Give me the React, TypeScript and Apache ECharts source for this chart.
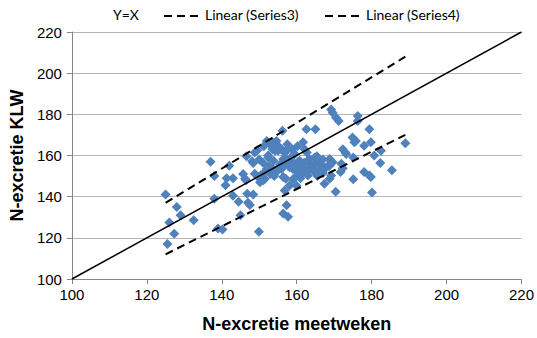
import { useEffect, useRef } from "react";
import * as echarts from "echarts";

// Axis range shared by both axes (N-excretie, kg)
const axisMin = 100;
const axisMax = 220;
const axisStep = 20;

// Reference line and the two linear trend lines
const identityLine: [number, number][] = [
  [100, 100],
  [220, 220],
];
const series3Trend: [number, number][] = [
  [125, 137],
  [189, 208],
];
const series4Trend: [number, number][] = [
  [125, 112],
  [189, 170],
];

const legendLabels = ["Y=X", "Linear (Series3)", "Linear (Series4)"];

// Per-farm pairs: [meetweken, KLW]
const lowerGroup: [number, number][] = [
  [125, 141], [125.5, 117], [126, 127.5], [127.3, 122], [128, 135], [129, 131],
  [132.5, 128.5], [137, 157], [138, 150], [138, 139], [139, 124.5], [140.2, 124],
  [141, 145.5], [141.3, 149], [142, 155], [143, 149], [143, 140.5], [144.5, 137.5],
  [145, 131], [145.7, 151], [146.2, 148.7], [146.5, 148], [146.8, 141.4], [147, 137],
  [147.5, 136], [148.4, 141], [149.9, 123], [146.6, 159.6],
];

const middleGroup: [number, number][] = [
  [148.1, 157.2], [148.4, 156.4], [148.8, 161.5], [148.8, 151.1], [149.7, 149.5],
  [150.2, 147], [151.1, 148], [151.5, 148.7], [152, 167], [152.4, 160], [152.4, 159],
  [152.8, 165.5], [153.5, 163], [154.2, 162.3], [154.6, 167], [155, 164.7], [155, 162.3],
  [155.9, 163], [156.2, 172], [156.4, 162.3], [156.8, 161.5], [157.3, 162.3],
  [152.6, 154.8], [153.5, 153.8], [152, 153.5], [155.9, 153.5], [156.4, 149.5],
  [157.1, 148.7], [156.4, 158.3], [157.3, 158], [159.5, 160.7], [160.4, 157], [160.8, 157.5],
  [150.5, 150.5], [151.5, 152], [153, 151], [154, 150], [154.8, 152.5], [155.5, 155.5],
  [157, 156], [158, 157.5], [158.7, 159.5], [159.5, 156], [160, 150], [161, 149],
  [161.5, 151.5], [162, 156.5], [163.5, 156], [164.5, 152.5], [153.8, 157.5], [151, 156.5],
  [150, 158], [149.5, 162.5], [151.2, 164.5], [153.5, 166.5], [157.5, 165.5],
  [160.2, 164.5], [158.8, 163], [159, 148.5],
];

const centreGroup: [number, number][] = [
  [158.1, 154.3], [159, 153.5], [159.9, 152.7], [160.4, 151], [160.8, 153.5],
  [161.7, 154.3], [162.4, 152], [163, 150.3], [163.4, 153.5], [163.9, 155.4],
  [164.3, 154.8], [165, 156], [165.6, 157], [162.1, 163], [162.7, 161.5], [163.4, 158.3],
  [164.8, 159], [165.4, 159.6], [165.7, 158.3], [161.7, 166.4], [162.6, 172.8],
  [165, 172.8], [158.1, 145.4], [159.9, 145.4], [156.8, 143], [157.3, 135.8],
  [156.4, 131.8], [157.7, 130.2], [166, 153], [166.5, 155.5], [167, 158],
  [165.5, 150], [167, 151.5],
];

const upperGroup: [number, number][] = [
  [167.9, 154.3], [168.6, 154.8], [169.2, 150.3], [167.4, 146.3], [168.8, 148.7],
  [171.7, 152], [172.3, 153.8], [168.8, 158.3], [169.2, 157], [168.8, 155.4],
  [169.6, 156.7], [171.9, 156], [172.3, 163], [173, 161.5], [173.2, 160.7], [175.1, 159],
  [170.4, 142.4], [175.1, 148.5], [174.9, 168.8], [175.8, 167], [175.4, 166.4],
  [178, 164.7], [179.8, 166.4], [178, 152], [179.4, 150.3], [179.8, 149.5], [180.1, 142],
  [180.7, 160], [182.5, 162.3], [182.3, 156.3], [185.4, 152.8], [189, 166],
  [169.2, 182.4], [169.6, 180.8], [170.5, 178.4], [171.2, 176.8], [176.3, 179.2],
  [176.3, 176.8], [179.4, 172.8],
];

const measurements = [...lowerGroup, ...middleGroup, ...centreGroup, ...upperGroup];

const labelFont = "'Liberation Sans', Arial, sans-serif";
const legendFont = "Lato, 'Open Sans', sans-serif";

export default function App() {
  const ref = useRef<HTMLDivElement>(null);

  useEffect(() => {
    if (!ref.current) return;
    const chart = echarts.init(ref.current, undefined, { renderer: "svg" });

    const dash = { type: [8, 5] as number[], color: "#000", width: 2 };

    const legendY = 16;
    const legendText = (text: string, left: number) => ({
      type: "text",
      left,
      top: legendY - 9,
      style: { text, font: `14px ${legendFont}`, fill: "#000" },
    });
    const legendDash = (x1: number, x2: number) => ({
      type: "line",
      shape: { x1, y1: legendY, x2, y2: legendY },
      style: { stroke: "#000", lineWidth: 2, lineDash: [8, 5] },
    });
    const legendGraphic = [
      legendText(legendLabels[0], 113),
      legendDash(164, 202),
      legendText(legendLabels[1], 205),
      legendDash(325, 363),
      legendText(legendLabels[2], 366),
    ];

    const axisCommon = {
      type: "value" as const,
      min: axisMin,
      max: axisMax,
      interval: axisStep,
      nameLocation: "middle" as const,
      nameTextStyle: {
        fontFamily: labelFont,
        fontSize: 18,
        fontWeight: "bold" as const,
        color: "#000",
      },
      axisLine: { show: true, lineStyle: { color: "#868686", width: 1 } },
      axisTick: { show: true, length: 5, lineStyle: { color: "#868686" } },
      axisLabel: { fontFamily: labelFont, fontSize: 15, color: "#000" },
    };

    chart.setOption({
      animation: false,
      backgroundColor: "#fff",
      grid: { left: 71, right: 14, top: 32, bottom: 57, containLabel: false },
      graphic: legendGraphic,
      xAxis: {
        ...axisCommon,
        name: "N-excretie meetweken",
        nameGap: 36,
        splitLine: { show: false },
        axisLabel: { ...axisCommon.axisLabel, margin: 8 },
      },
      yAxis: {
        ...axisCommon,
        name: "N-excretie KLW",
        nameGap: 44,
        splitLine: { show: true, lineStyle: { color: "#b5b5b5", width: 1 } },
        axisLabel: { ...axisCommon.axisLabel, margin: 10 },
      },
      series: [
        {
          name: "Series1",
          type: "scatter",
          symbol: "diamond",
          symbolSize: 10,
          itemStyle: { color: "#4F81BD", opacity: 1 },
          data: measurements,
        },
        {
          name: legendLabels[0],
          type: "line",
          symbol: "none",
          lineStyle: { color: "#000", width: 1.5 },
          data: identityLine,
        },
        {
          name: legendLabels[1],
          type: "line",
          symbol: "none",
          lineStyle: dash,
          data: series3Trend,
        },
        {
          name: legendLabels[2],
          type: "line",
          symbol: "none",
          lineStyle: dash,
          data: series4Trend,
        },
      ],
    });

    return () => chart.dispose();
  }, []);

  return (
    <div
      ref={ref}
      style={{ position: "fixed", left: 0, top: 0, width: 537, height: 338, background: "#fff" }}
    />
  );
}
